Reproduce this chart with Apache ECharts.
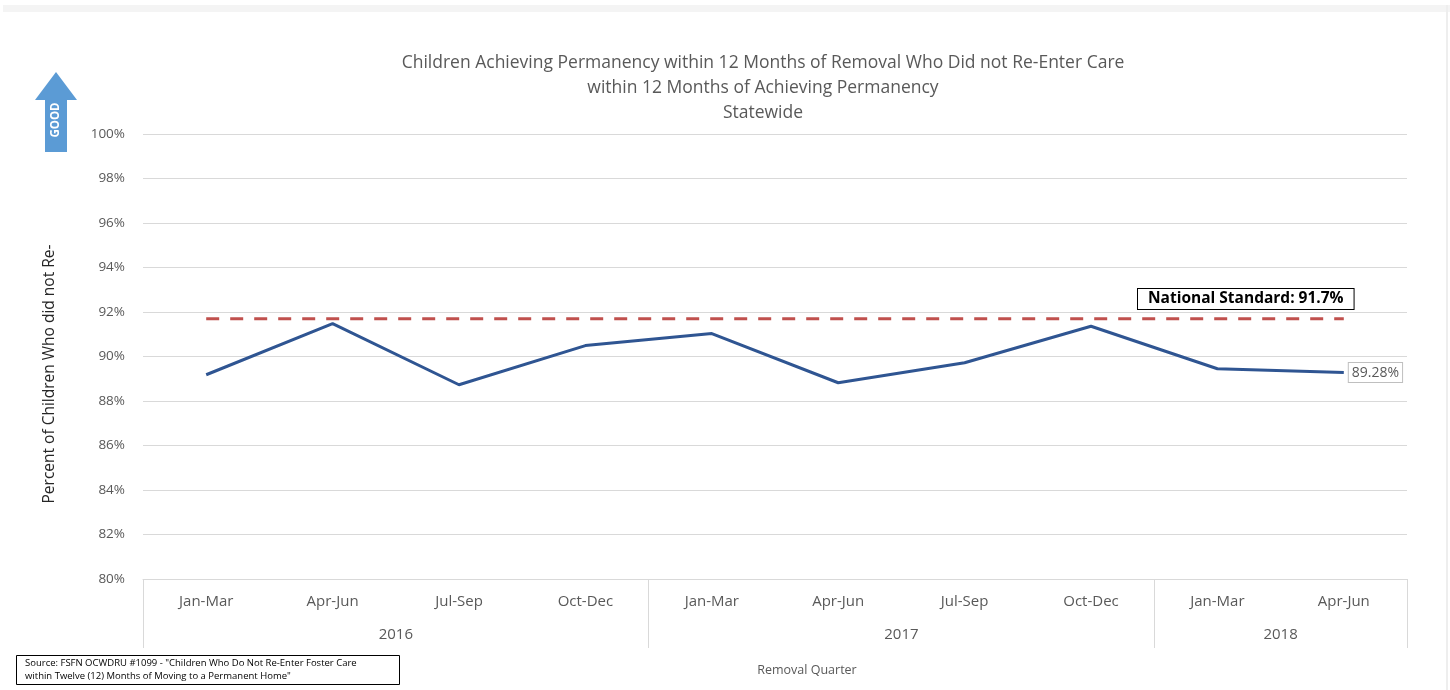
<!DOCTYPE html>
<html>
<head>
<meta charset="utf-8">
<script src="https://cdn.jsdelivr.net/npm/echarts@6/dist/echarts.min.js"></script>
<style>
  html, body { margin: 0; padding: 0; background: #fff; }
  #chart { width: 1450px; height: 690px; }
</style>
</head>
<body>
<div id="chart"></div>
<script>
// quarters along the bottom, grouped by year
const quarters = ['Jan-Mar', 'Apr-Jun', 'Jul-Sep', 'Oct-Dec', 'Jan-Mar', 'Apr-Jun', 'Jul-Sep', 'Oct-Dec', 'Jan-Mar', 'Apr-Jun'];
const years = ['2016', '2017', '2018'];
const quartersPerYear = [4, 4, 2];

// percent of children who did not re-enter care
const statewide = [89.18, 91.48, 88.73, 90.49, 91.03, 88.82, 89.72, 91.36, 89.45, 89.28];
const nationalStandard = 91.7;

const textColor = '#595959';
const font = 'Open Sans';

// year group boundaries + centers (in category units)
const yearEdges = [0];
const yearCenters = [];
quartersPerYear.forEach((n, i) => {
  yearCenters.push(yearEdges[i] + n / 2);
  yearEdges.push(yearEdges[i] + n);
});

const chart = echarts.init(document.getElementById('chart'));

const options = {
  backgroundColor: '#fff',
  animation: false,
  textStyle: { fontFamily: font },
  title: {
    text: 'Children Achieving Permanency within 12 Months of Removal Who Did not Re-Enter Care\nwithin 12 Months of Achieving Permanency\nStatewide',
    left: 758,
    textAlign: 'center',
    top: 46,
    textStyle: { fontFamily: font, fontSize: 17.5, fontWeight: 'normal', color: textColor, lineHeight: 25 }
  },
  grid: { left: 143, right: 43, top: 134, bottom: 111 },
  xAxis: [
    {
      type: 'category',
      data: quarters,
      boundaryGap: true,
      axisLine: { lineStyle: { color: '#d9d9d9' } },
      axisTick: { show: false },
      axisLabel: { color: textColor, fontSize: 15, margin: 15, fontFamily: font }
    },
    {
      type: 'value',
      position: 'bottom',
      min: 0,
      max: quarters.length,
      axisLine: { show: false },
      splitLine: { show: false },
      axisTick: {
        show: true,
        customValues: yearEdges,
        length: 69,
        lineStyle: { color: '#d9d9d9' }
      },
      axisLabel: {
        customValues: yearCenters,
        color: textColor,
        fontSize: 15,
        margin: 48,
        fontFamily: font,
        formatter: (v) => {
          const i = yearCenters.indexOf(v);
          return i >= 0 ? years[i] : '';
        }
      }
    }
  ],
  yAxis: {
    type: 'value',
    min: 80,
    max: 100,
    interval: 2,
    axisLine: { show: false },
    axisTick: { show: false },
    axisLabel: { color: textColor, fontSize: 13.5, margin: 18, formatter: '{value}%', fontFamily: font },
    splitLine: { lineStyle: { color: '#d9d9d9' } }
  },
  series: [
    {
      name: 'National Standard',
      type: 'line',
      data: quarters.map(() => nationalStandard),
      showSymbol: false,
      lineStyle: { color: '#c0504d', width: 3, type: [13, 11] },
      z: 2
    },
    {
      name: 'Statewide',
      type: 'line',
      data: statewide,
      showSymbol: false,
      lineStyle: { color: '#2f5592', width: 3 },
      endLabel: {
        show: true,
        formatter: '{c}%',
        color: textColor,
        fontSize: 14,
        fontFamily: font,
        backgroundColor: '#fff',
        borderColor: '#bfbfbf',
        borderWidth: 1,
        padding: [3, 3, 2, 3],
        distance: 5
      },
      z: 3
    }
  ],
  graphic: [
    // top band + right edge of the screenshot frame
    { type: 'rect', shape: { x: 3, y: 5, width: 1447, height: 7 }, style: { fill: '#f4f4f4' }, silent: true },
    { type: 'rect', shape: { x: 1446, y: 5, width: 2, height: 685 }, style: { fill: '#eeeeee' }, silent: true },
    // GOOD arrow
    {
      type: 'polygon',
      shape: { points: [[35, 100], [56, 72], [77, 100], [67, 100], [67, 152], [45, 152], [45, 100]] },
      style: { fill: '#5b9bd5' }
    },
    {
      type: 'text',
      x: 56, y: 120,
      rotation: Math.PI / 2,
      style: { text: 'GOOD', fill: '#fff', font: 'bold 11.5px "Open Sans"', align: 'center', verticalAlign: 'middle' }
    },
    // y axis title
    {
      type: 'text',
      x: 50, y: 374,
      rotation: Math.PI / 2,
      style: { text: 'Percent of Children Who did not Re-', fill: '#262626', font: '15.5px "Open Sans"', align: 'center', verticalAlign: 'middle' }
    },
    // national standard callout
    {
      type: 'text',
      x: 1138, y: 289,
      style: {
        text: 'National Standard: 91.7%',
        font: 'bold 15.5px "Open Sans"',
        fill: '#000',
        backgroundColor: '#fff',
        borderColor: '#000',
        borderWidth: 1,
        padding: [2, 10, 2, 10]
      }
    },
    // axis title
    {
      type: 'text',
      x: 807, y: 670,
      style: { text: 'Removal Quarter', font: '12.5px "Open Sans"', fill: textColor, align: 'center', verticalAlign: 'middle' }
    },
    // source box
    {
      type: 'rect',
      shape: { x: 16.5, y: 655.5, width: 383, height: 29 },
      style: { fill: '#fff', stroke: '#000', lineWidth: 1 }
    },
    {
      type: 'text',
      x: 25, y: 657,
      style: {
        text: 'Source: FSFN OCWDRU #1099 - "Children Who Do Not Re-Enter Foster Care\nwithin Twelve (12) Months of Moving to a Permanent Home"',
        font: '9.5px "Open Sans"',
        fill: '#000',
        lineHeight: 13
      }
    }
  ]
};

chart.setOption(options);
</script>
</body>
</html>
